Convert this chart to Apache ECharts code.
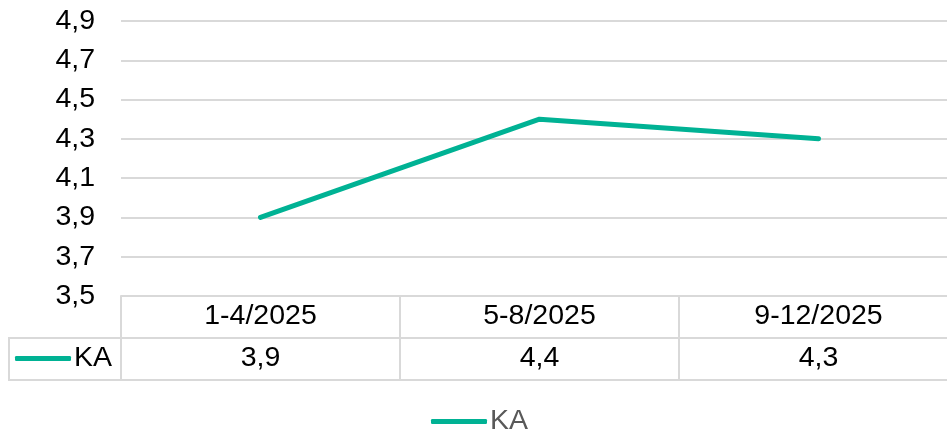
<!DOCTYPE html>
<html>
<head>
<meta charset="utf-8">
<script src="https://cdn.jsdelivr.net/npm/echarts@6/dist/echarts.min.js"></script>
<style>
html,body{margin:0;padding:0;background:#fff;}
#c{width:947px;height:432px;}
</style>
</head>
<body>
<div id="c"></div>
<script>
const categories = ['1-4/2025', '5-8/2025', '9-12/2025'];
const seriesName = 'KA';
const values = [3.9, 4.4, 4.3];
const yMin = 3.5, yMax = 4.9, yStep = 0.2;

const fmt = v => Number(v).toFixed(1).replace('.', ',');
const FONT = '"Liberation Sans", Arial, sans-serif';
const FS = 28.5;
const GRID_C = '#d9d9d9';
const LINE_C = '#00B294';

const chart = echarts.init(document.getElementById('c'), null, {renderer: 'canvas'});
chart.setOption({
  animation: false,
  backgroundColor: '#fff',
  textStyle: {fontFamily: FONT},
  grid: {left: 121, top: 21, width: 837, height: 275, containLabel: false, outerBoundsMode: 'none'},
  xAxis: [
    {
      type: 'category', data: categories, position: 'bottom', boundaryGap: true,
      axisLine: {show: true, lineStyle: {color: GRID_C, width: 2}},
      axisTick: {show: true, interval: 0, length: 42, lineStyle: {color: GRID_C, width: 2}},
      axisLabel: {fontSize: FS, color: '#000', fontFamily: FONT, margin: 6, interval: 0}
    },
    {
      type: 'category', data: values.map(fmt), position: 'bottom', offset: 42, boundaryGap: true,
      axisLine: {show: true, lineStyle: {color: GRID_C, width: 2}},
      axisTick: {show: true, interval: 0, length: 42, lineStyle: {color: GRID_C, width: 2}},
      axisLabel: {fontSize: FS, color: '#000', fontFamily: FONT, margin: 6, interval: 0}
    },
    {
      type: 'category', data: categories, position: 'bottom', offset: 84, boundaryGap: true,
      axisLine: {show: true, lineStyle: {color: GRID_C, width: 2}},
      axisTick: {show: false}, axisLabel: {show: false}
    }
  ],
  yAxis: {
    type: 'value', min: yMin, max: yMax, interval: yStep,
    axisLine: {show: false}, axisTick: {show: false},
    splitLine: {show: true, lineStyle: {color: GRID_C, width: 2}},
    axisLabel: {fontSize: FS, color: '#000', fontFamily: FONT, margin: 26, formatter: v => fmt(v)}
  },
  legend: [
    {
      data: [seriesName], left: 15, top: 344, selectedMode: false,
      icon: 'roundRect', itemWidth: 56, itemHeight: 5, itemGap: 5,
      textStyle: {fontSize: FS, color: '#000', fontFamily: FONT, padding: [0, 0, 0, -2]},
      padding: 0
    },
    {
      data: [seriesName], left: 431, top: 407, selectedMode: false,
      icon: 'roundRect', itemWidth: 56, itemHeight: 5, itemGap: 5,
      textStyle: {fontSize: FS, color: '#595959', fontFamily: FONT, padding: [0, 0, 0, -2]},
      padding: 0
    }
  ],
  graphic: [
    {type: 'rect', silent: true, z: 0,
     shape: {x: 9, y: 338, width: 112, height: 42},
     style: {fill: 'none', stroke: GRID_C, lineWidth: 2}}
  ],
  series: [{
    name: seriesName, type: 'line', data: values, xAxisIndex: 0,
    symbol: 'none', showSymbol: false,
    lineStyle: {color: LINE_C, width: 5, cap: 'round', join: 'round'},
    itemStyle: {color: LINE_C}
  }]
});
</script>
</body>
</html>
